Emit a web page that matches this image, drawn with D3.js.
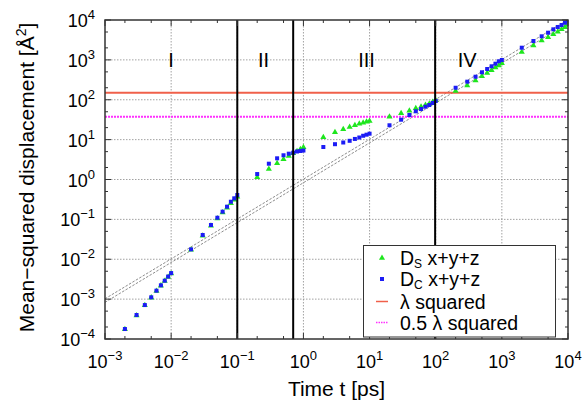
<!DOCTYPE html>
<html><head><meta charset="utf-8">
<script src="https://cdn.jsdelivr.net/npm/d3@7"></script>
<style>body{margin:0;background:#fff;} svg{display:block;font-family:"Liberation Sans",Arial,Helvetica,sans-serif;}</style>
</head><body><svg id="c" width="585" height="404"></svg>
<script>
// ---- data ----
const times = [0.002,0.003,0.004,0.005,0.006,0.007,0.008,0.009,0.01,
  0.02,0.03,0.04,0.05,0.06,0.07,0.08,0.09,0.1,
  0.2,0.3,0.4,0.5,0.6,0.7,0.8,0.9,1,
  2,3,4,5,6,7,8,9,10,
  20,30,40,50,60,70,80,90,100,
  200,300,400,500,600,700,800,900,1000,
  2000,3000,4000,5000,6000,7000,8000,9000,10000];
const dS = [1.75e-4,3.9e-4,7.0e-4,1.09e-3,1.6e-3,2.18e-3,2.85e-3,3.6e-3,4.4e-3,
  0.0172,0.039,0.069,0.105,0.148,0.196,0.255,0.31,0.37,
  1.14,1.83,2.55,3.21,3.88,4.54,5.09,5.72,6.42,
  11.4,15.3,18.2,20.7,22.9,24.9,26.4,28.0,29.3,
  37.6,45.7,53.1,61.1,66.9,73.8,79.6,87.8,96.9,
  166,228,304,387,469,548,644,723,820,
  1574,2291,3060,3680,4380,5090,5840,6560,7500];
const dC = [1.78e-4,4.0e-4,7.1e-4,1.11e-3,1.63e-3,2.22e-3,2.9e-3,3.68e-3,4.5e-3,
  0.0177,0.0406,0.0723,0.110,0.156,0.208,0.277,0.337,0.408,
  1.37,2.49,3.40,4.05,4.44,4.70,5.04,5.19,5.33,
  6.53,7.68,8.47,9.34,10.4,11.3,12.5,13.3,14.1,
  22.9,31.6,41.5,51.3,58.6,66.9,73.8,82.9,93.0,
  200,284,378,488,590,690,802,921,993,
  2020,2972,3900,4800,5840,6680,7490,8550,9600];
const xTickExp = [-3,-2,-1,0,1,2,3,4];
const yTickExp = [-4,-3,-2,-1,0,1,2,3,4];
const minorMult = [2,5];
const regionBounds = [0.1, 0.7, 98];
const regionLabels = ["I","II","III","IV"];
const regionLabelT = [0.01, 0.25, 9, 300];
const lambdaSq = 150;
const halfLambdaSq = 37.5;
const refCoef = [1.02, 0.83];
const legendNames = [["D","S"," x+y+z"],["D","C"," x+y+z"],["λ squared"],["0.5 λ squared"]];

// ---- layout ----
const svg = d3.select("#c");
const L=105, R=568, T=20, B=339;
const x = d3.scaleLog().domain([1e-3,1e4]).range([L,R]);
const y = d3.scaleLog().domain([1e-4,1e4]).range([B,T]);
const cGreen="#1ee61e", cBlue="#1c1cf5", cRed="#f0604a", cMag="#ff30ff";

svg.append("defs").append("clipPath").attr("id","pc")
  .append("rect").attr("x",L).attr("y",T).attr("width",R-L).attr("height",B-T);

// grid
const g = svg.append("g");
xTickExp.slice(1,-1).forEach(e=>{
  g.append("line").attr("x1",x(10**e)).attr("x2",x(10**e)).attr("y1",T).attr("y2",B)
   .attr("stroke","#8a8a8a").attr("stroke-width",0.8).attr("stroke-dasharray","1.5,1.5");
});
yTickExp.slice(1,-1).forEach(e=>{
  g.append("line").attr("y1",y(10**e)).attr("y2",y(10**e)).attr("x1",L).attr("x2",R)
   .attr("stroke","#8a8a8a").attr("stroke-width",0.8).attr("stroke-dasharray","1.5,1.5");
});

// reference diagonal lines
const pc = svg.append("g").attr("clip-path","url(#pc)");
refCoef.forEach(a=>{
  pc.append("line").attr("x1",x(1e-3)).attr("y1",y(a*1e-3)).attr("x2",x(1e4)).attr("y2",y(a*1e4))
    .attr("stroke","#8c8c8c").attr("stroke-width",1).attr("stroke-dasharray","2.5,1.5");
});

// horizontal lambda lines
pc.append("line").attr("x1",L).attr("x2",R).attr("y1",y(lambdaSq)).attr("y2",y(lambdaSq))
  .attr("stroke",cRed).attr("stroke-width",2);
pc.append("line").attr("x1",L).attr("x2",R).attr("y1",y(halfLambdaSq)).attr("y2",y(halfLambdaSq))
  .attr("stroke",cMag).attr("stroke-width",2).attr("stroke-dasharray","2,1");

// region lines
regionBounds.forEach(t=>{
  svg.append("line").attr("x1",x(t)).attr("x2",x(t)).attr("y1",T).attr("y2",B)
    .attr("stroke","#000").attr("stroke-width",2);
});
regionLabels.forEach((s,i)=>{
  svg.append("text").attr("x",x(regionLabelT[i])).attr("y",y(1000)+7)
    .attr("text-anchor","middle").attr("font-size",20).text(s);
});

// points
const tri = d3.symbol().type(d3.symbolTriangle).size(16);
pc.selectAll("path.s").data(times).join("path").attr("class","s")
  .attr("d",tri).attr("transform",(d,i)=>`translate(${x(d)},${y(dS[i])})`).attr("fill",cGreen);
pc.selectAll("rect.c").data(times).join("rect").attr("class","c")
  .attr("x",d=>x(d)-2).attr("y",(d,i)=>y(dC[i])-2).attr("width",4).attr("height",4).attr("fill",cBlue);

// ticks
const tk = svg.append("g").attr("stroke","#333").attr("stroke-width",1);
xTickExp.forEach(e=>{
  const xv = x(10**e);
  tk.append("line").attr("x1",xv).attr("x2",xv).attr("y1",B).attr("y2",B-6);
  tk.append("line").attr("x1",xv).attr("x2",xv).attr("y1",T).attr("y2",T+6);
  if(e<4) minorMult.forEach(m=>{
    const xm = x(m*10**e);
    tk.append("line").attr("x1",xm).attr("x2",xm).attr("y1",B).attr("y2",B-3);
    tk.append("line").attr("x1",xm).attr("x2",xm).attr("y1",T).attr("y2",T+3);
  });
});
yTickExp.forEach(e=>{
  const yv = y(10**e);
  tk.append("line").attr("y1",yv).attr("y2",yv).attr("x1",L).attr("x2",L+6);
  tk.append("line").attr("y1",yv).attr("y2",yv).attr("x1",R).attr("x2",R-6);
  if(e<4) minorMult.forEach(m=>{
    const ym = y(m*10**e);
    tk.append("line").attr("y1",ym).attr("y2",ym).attr("x1",L).attr("x2",L+3);
    tk.append("line").attr("y1",ym).attr("y2",ym).attr("x1",R).attr("x2",R-3);
  });
});
const fmtE = e => (e<0?"−":"")+Math.abs(e);
xTickExp.forEach(e=>{
  const t = svg.append("text").attr("x",x(10**e)).attr("y",368).attr("text-anchor","middle").attr("font-size",18);
  t.append("tspan").text("10");
  t.append("tspan").attr("dy",-8).attr("font-size",13).text(fmtE(e));
});
yTickExp.forEach(e=>{
  const t = svg.append("text").attr("x",95).attr("y",y(10**e)+7).attr("text-anchor","end").attr("font-size",18);
  t.append("tspan").text("10");
  t.append("tspan").attr("dy",-8).attr("font-size",13).text(fmtE(e));
});

// axis titles
svg.append("text").attr("x",(L+R)/2).attr("y",396).attr("text-anchor","middle").attr("font-size",21).text("Time t [ps]");
const yt = svg.append("text").attr("transform",`translate(34,${(T+B)/2-2}) rotate(-90)`)
  .attr("text-anchor","middle").attr("font-size",21);
yt.append("tspan").text("Mean−squared displacement  [Å");
yt.append("tspan").attr("dy",-8).attr("font-size",14).text("2");
yt.append("tspan").attr("dy",8).text("]");

// legend
const lg = svg.append("g");
lg.append("rect").attr("x",363.5).attr("y",245.5).attr("width",192).attr("height",91.5)
  .attr("fill","#fff").attr("stroke","#333").attr("stroke-width",1);
const rowY = [258, 279, 301.5, 322.5];
legendNames.forEach((parts,i)=>{
  const t = lg.append("text").attr("x",400).attr("y",rowY[i]+7).attr("font-size",19.5);
  if(parts.length===3){
    t.append("tspan").text(parts[0]);
    t.append("tspan").attr("dy",2.5).attr("font-size",12).text(parts[1]);
    t.append("tspan").attr("dy",-2.5).text(parts[2]);
  } else t.text(parts[0]);
});
lg.append("path").attr("d",tri).attr("transform",`translate(382,${rowY[0]})`).attr("fill",cGreen);
lg.append("rect").attr("x",380).attr("y",rowY[1]-2).attr("width",4).attr("height",4).attr("fill",cBlue);
lg.append("line").attr("x1",376).attr("x2",388).attr("y1",rowY[2]).attr("y2",rowY[2]).attr("stroke",cRed).attr("stroke-width",1.5);
lg.append("line").attr("x1",376).attr("x2",388).attr("y1",rowY[3]).attr("y2",rowY[3]).attr("stroke",cMag).attr("stroke-width",1.5).attr("stroke-dasharray","1.5,1");

// border
svg.append("rect").attr("x",L).attr("y",T).attr("width",R-L).attr("height",B-T)
  .attr("fill","none").attr("stroke","#333").attr("stroke-width",1.5);
</script></body></html>
